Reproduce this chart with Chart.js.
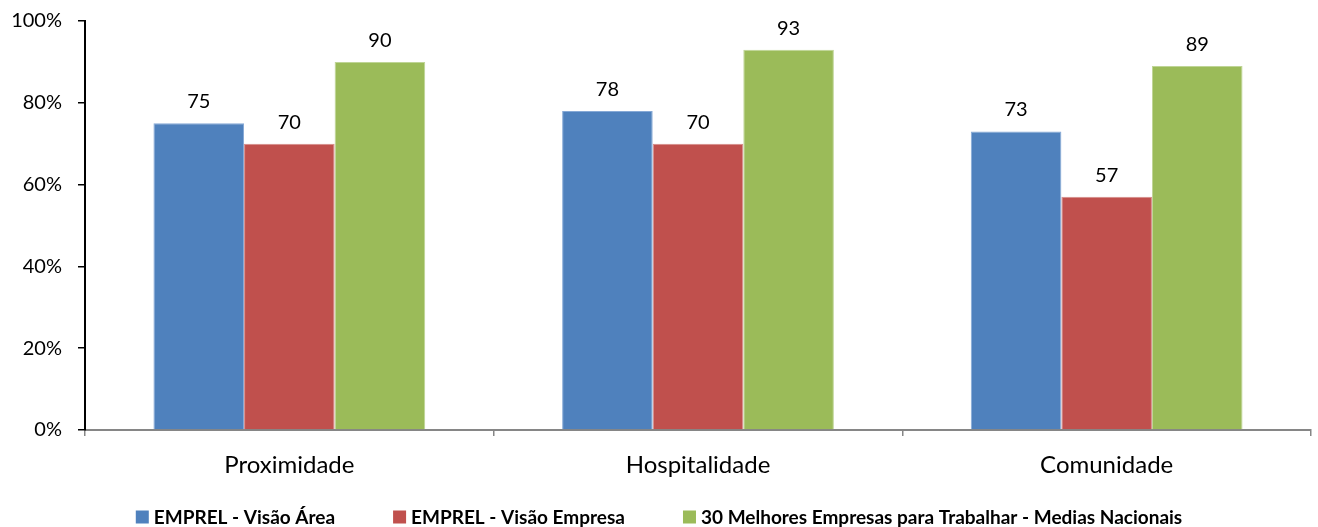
<!DOCTYPE html>
<html>
<head>
<meta charset="utf-8">
<script src="https://cdn.jsdelivr.net/npm/chart.js@4/dist/chart.umd.min.js"></script>
<style>
  html, body { margin: 0; padding: 0; background: #fff; }
  #wrap { width: 1318px; height: 527px; }
</style>
</head>
<body>
<div id="wrap"><canvas id="grafico" width="1318" height="527"></canvas></div>
<script>
// Dados do grafico
const categorias = ['Proximidade', 'Hospitalidade', 'Comunidade'];
const visaoArea = [75, 78, 73];
const visaoEmpresa = [70, 70, 57];
const mediasNacionais = [90, 93, 89];
const nomesSeries = [
    'EMPREL - Visão Área',
    'EMPREL - Visão Empresa',
    '30 Melhores Empresas para Trabalhar - Medias Nacionais'
];
const coresSeries = ['#4F81BD', '#C0504D', '#9BBB59'];
const bordasSeries = ['#86A9D6', '#D68A88', '#BFD596'];

const FONTE = 'Lato, "Open Sans", sans-serif';

// Numeros acima de cada barra
const rotulosBarras = {
    id: 'rotulosBarras',
    afterDatasetsDraw(chart) {
        const ctx = chart.ctx;
        ctx.save();
        ctx.font = '20px ' + FONTE;
        ctx.fillStyle = '#000';
        ctx.textAlign = 'center';
        ctx.textBaseline = 'alphabetic';
        chart.data.datasets.forEach((ds, i) => {
            chart.getDatasetMeta(i).data.forEach((bar, j) => {
                ctx.fillText(String(ds.data[j]), bar.x, bar.y - 15);
            });
        });
        ctx.restore();
    }
};

// Legenda desenhada a mao para controlar o espacamento entre itens
const legendaInferior = {
    id: 'legendaInferior',
    afterDraw(chart) {
        const ctx = chart.ctx;
        const caixa = 13, respiro = 5, intervalo = 58;
        ctx.save();
        ctx.font = 'bold 19px ' + FONTE;
        const larguras = chart.data.datasets.map(ds => caixa + respiro + ctx.measureText(ds.label).width);
        const total = larguras.reduce((a, b) => a + b, 0) + intervalo * (larguras.length - 1);
        let x = chart.width / 2 - total / 2;
        const y = 517;
        ctx.textBaseline = 'middle';
        ctx.textAlign = 'left';
        chart.data.datasets.forEach((ds, i) => {
            ctx.fillStyle = ds.backgroundColor;
            ctx.fillRect(x, y - caixa / 2, caixa, caixa);
            ctx.fillStyle = '#000';
            ctx.fillText(ds.label, x + caixa + respiro, y + 1);
            x += larguras[i] + intervalo;
        });
        ctx.restore();
    }
};

new Chart(document.getElementById('grafico').getContext('2d'), {
    type: 'bar',
    data: {
        labels: categorias,
        datasets: [
            { label: nomesSeries[0], data: visaoArea, backgroundColor: coresSeries[0], borderColor: bordasSeries[0] },
            { label: nomesSeries[1], data: visaoEmpresa, backgroundColor: coresSeries[1], borderColor: bordasSeries[1] },
            { label: nomesSeries[2], data: mediasNacionais, backgroundColor: coresSeries[2], borderColor: bordasSeries[2] }
        ]
    },
    options: {
        responsive: false,
        animation: false,
        layout: { padding: { top: 21, right: 7, left: 0, bottom: 0 } },
        datasets: {
            bar: { categoryPercentage: 0.665, barPercentage: 1.0, borderWidth: 1 }
        },
        plugins: {
            legend: { display: false },
            tooltip: { enabled: false }
        },
        scales: {
            x: {
                afterFit(scale) {
                    scale.height = 97;
                    scale.paddingLeft = 0;
                    scale.paddingRight = 0;
                },
                grid: {
                    offset: true,
                    drawOnChartArea: false,
                    color: '#868686',
                    lineWidth: 1.5,
                    tickLength: 6
                },
                border: { color: '#868686', width: 2 },
                ticks: {
                    color: '#000',
                    padding: 15,
                    font: { family: FONTE, size: 24 }
                }
            },
            y: {
                min: 0,
                max: 100,
                afterFit(scale) {
                    scale.width = 85;
                    scale.paddingTop = 0;
                    scale.paddingBottom = 0;
                },
                grid: {
                    drawOnChartArea: false,
                    color: '#000',
                    lineWidth: 1.5,
                    tickLength: 7
                },
                border: { color: '#000', width: 2 },
                ticks: {
                    stepSize: 20,
                    color: '#000',
                    padding: 16,
                    font: { family: FONTE, size: 20 },
                    callback: v => v + '%'
                }
            }
        }
    },
    plugins: [rotulosBarras, legendaInferior]
});
</script>
</body>
</html>
